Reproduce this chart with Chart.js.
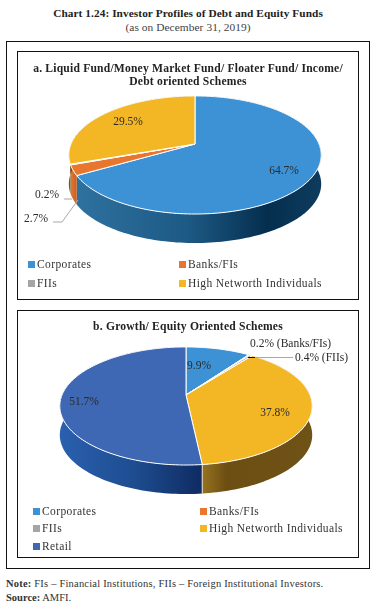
<!DOCTYPE html>
<html>
<head>
<meta charset="utf-8">
<script src="https://cdn.jsdelivr.net/npm/chart.js@4/dist/chart.umd.min.js"></script>
<style>
html, body { margin: 0; padding: 0; background: #fff; }
body { position: relative; width: 376px; height: 606px; overflow: hidden; font-family: "Liberation Serif", serif; color: #222; }
.txt { position: absolute; white-space: nowrap; line-height: 14px; }
.ctr { left: 0; width: 376px; text-align: center; }
.box { position: absolute; box-sizing: border-box; border: 1px solid #111; }
.panel { overflow: hidden; background: #fff; }
.panel canvas { position: absolute; left: 0; top: 0; }
.ptitle { position: absolute; left: 0; width: 100%; text-align: center; font-weight: bold; font-size: 11.6px; line-height: 13px; letter-spacing: 0.2px; color: #222; }
.sw { position: absolute; width: 7px; height: 7px; }
.lg { position: absolute; font-size: 11.5px; line-height: 14px; letter-spacing: 0.4px; white-space: nowrap; color: #333; overflow: hidden; }
</style>
</head>
<body>
<div class="txt ctr" style="top:6px;font-size:11.3px;font-weight:bold;letter-spacing:0.08px">Chart 1.24: Investor Profiles of Debt and Equity Funds</div>
<div class="txt ctr" style="top:20px;font-size:11.4px;letter-spacing:0.06px;color:#444">(as on December 31, 2019)</div>
<div class="box" style="left:6px;top:41px;width:364px;height:528px"></div>

<div class="box panel" id="panelA" style="left:17px;top:51px;width:342px;height:249px">
  <canvas id="pieA" width="340" height="247"></canvas>
  <div class="ptitle" style="top:10px">a. Liquid Fund/Money Market Fund/ Floater Fund/ Income/<br>Debt oriented Schemes</div>
</div>
<div class="box panel" id="panelB" style="left:17px;top:310px;width:342px;height:248px">
  <canvas id="pieB" width="340" height="246"></canvas>
  <div class="ptitle" style="top:9px">b. Growth/ Equity Oriented Schemes</div>
</div>

<div class="txt" style="left:6px;top:577px;font-size:10.5px;letter-spacing:0.2px;color:#333"><b>Note:</b> FIs – Financial Institutions, FIIs – Foreign Institutional Investors.</div>
<div class="txt" style="left:6px;top:591px;font-size:10.5px;color:#333"><b>Source:</b> AMFI.</div>

<script>
var labelsA = ['Corporates', 'Banks/FIs', 'FIIs', 'High Networth Individuals'];
var valuesA = [64.7, 2.7, 0.2, 29.5];
var labelsB = ['Corporates', 'Banks/FIs', 'FIIs', 'High Networth Individuals', 'Retail'];
var valuesB = [9.9, 0.2, 0.4, 37.8, 51.7];

var sliceColors = ['#3C92D5', '#E8762F', '#A5A5A5', '#F3B725', '#3E67B4'];

// side wall gradients, one per slice
var wallStops = [
    [[0, '#2E719F'], [0.45, '#1D5A85'], [0.78, '#052E4E'], [1, '#0E3C5E']],
    [[0, '#E8762F'], [1, '#C9601F']],
    [[0, '#8A8A8A'], [1, '#777777']],
    [[0, '#97731F'], [0.22, '#6C4E12'], [1, '#6F5215']],
    [[0, '#2A60AE'], [0.5, '#1E4E92'], [1, '#0F2B62']]
];

var TILT = 0.186;     // how strongly the near edge is enlarged
var FLAT = 57;        // disc height scale
var RADIUS = 124;
var DEPTH = 29;

// disc point at angle a, seen in perspective
function project(arc, a) {
    var ux = Math.cos(a), uy = Math.sin(a);
    var d = 1 - TILT * uy;
    return { x: arc.x + RADIUS * ux / d, y: arc.y + FLAT * uy / d };
}

function fmt(v) { return v.toFixed(1) + '%'; }

var pie3d = {
    id: 'pie3d',
    beforeDatasetDraw: function (chart, args, opts) {
        var ctx = chart.ctx;
        var arcs = chart.getDatasetMeta(args.index).data;
        var i, j, n, a, p;

        // walls first, the disc covers whatever is at the back
        arcs.forEach(function (arc, idx) {
            var props = arc.getProps(['x', 'y', 'startAngle', 'endAngle'], true);
            n = Math.max(2, Math.ceil((props.endAngle - props.startAngle) * 40));
            var pts = [];
            for (j = 0; j <= n; j++) {
                pts.push(project(props, props.startAngle + (props.endAngle - props.startAngle) * j / n));
            }
            var minX = 1e9, maxX = -1e9;
            pts.forEach(function (q) {
                // only front facing part sets the gradient span
                if (q.y > props.y - 5) { minX = Math.min(minX, q.x); maxX = Math.max(maxX, q.x); }
            });
            if (minX >= maxX) { return; }
            var grad = ctx.createLinearGradient(minX, 0, maxX, 0);
            wallStops[idx].forEach(function (s) { grad.addColorStop(s[0], s[1]); });
            ctx.beginPath();
            pts.forEach(function (q, k) {
                if (k === 0) { ctx.moveTo(q.x, q.y); } else { ctx.lineTo(q.x, q.y); }
            });
            for (j = pts.length - 1; j >= 0; j--) { ctx.lineTo(pts[j].x, pts[j].y + DEPTH); }
            ctx.closePath();
            ctx.fillStyle = grad;
            ctx.fill();
        });

        // line between the walls of neighbouring slices
        if (opts.seam) {
            arcs.forEach(function (arc) {
                var props = arc.getProps(['x', 'y', 'startAngle', 'endAngle'], true);
                p = project(props, props.endAngle);
                if (p.y > props.y + 60) {
                    ctx.beginPath();
                    ctx.moveTo(p.x, p.y);
                    ctx.lineTo(p.x, p.y + DEPTH);
                    ctx.strokeStyle = '#E8E2D0';
                    ctx.lineWidth = 1;
                    ctx.stroke();
                }
            });
        }

        // top surface
        arcs.forEach(function (arc) {
            var props = arc.getProps(['x', 'y', 'startAngle', 'endAngle'], true);
            n = Math.max(2, Math.ceil((props.endAngle - props.startAngle) * 40));
            ctx.beginPath();
            ctx.moveTo(props.x, props.y);
            for (i = 0; i <= n; i++) {
                a = props.startAngle + (props.endAngle - props.startAngle) * i / n;
                p = project(props, a);
                ctx.lineTo(p.x, p.y);
            }
            ctx.closePath();
            ctx.fillStyle = arc.options.backgroundColor;
            ctx.fill();
            ctx.strokeStyle = '#fff';
            ctx.lineWidth = 1;
            ctx.stroke();
        });
        return false;
    },
    afterDatasetsDraw: function (chart, args, opts) {
        var ctx = chart.ctx;
        var values = chart.data.datasets[0].data;
        ctx.save();
        (opts.leaders || []).forEach(function (l) {
            ctx.beginPath();
            l.path.forEach(function (q, k) {
                if (k === 0) { ctx.moveTo(q[0], q[1]); } else { ctx.lineTo(q[0], q[1]); }
            });
            ctx.strokeStyle = l.color;
            ctx.lineWidth = 1;
            ctx.stroke();
        });
        ctx.font = '11.5px "Liberation Serif"';
        ctx.fillStyle = '#2b2b2b';
        ctx.textBaseline = 'middle';
        (opts.spots || []).forEach(function (s) {
            ctx.textAlign = s.align || 'center';
            ctx.fillText(fmt(values[s.idx]) + (s.suffix || ''), s.x, s.y);
        });
        ctx.restore();
    }
};

// legend is laid out as two fixed columns, so plain elements instead of the built in one
function addLegend(panelId, labels, place) {
    var panel = document.getElementById(panelId);
    labels.forEach(function (lab, i) {
        var sw = document.createElement('div');
        sw.className = 'sw';
        sw.style.left = place.cols[i % 2] + 'px';
        sw.style.top = (place.rows[Math.floor(i / 2)] - 3.5) + 'px';
        sw.style.background = sliceColors[i];
        panel.appendChild(sw);
        var t = document.createElement('div');
        t.className = 'lg';
        t.style.left = (place.cols[i % 2] + 9) + 'px';
        t.style.top = (place.rows[Math.floor(i / 2)] - 7) + 'px';
        // the last row is cut off in the original
        if (i === place.cutIndex) { t.style.height = place.cutHeight + 'px'; }
        t.textContent = lab;
        panel.appendChild(t);
    });
}

function makePie(id, labels, values, padding, pluginOpts) {
    return new Chart(document.getElementById(id), {
        type: 'pie',
        data: {
            labels: labels,
            datasets: [{ data: values, backgroundColor: sliceColors.slice(0, labels.length), borderWidth: 0 }]
        },
        options: {
            responsive: false,
            animation: false,
            radius: RADIUS,
            layout: { padding: padding },
            plugins: { legend: { display: false }, tooltip: { enabled: false }, pie3d: pluginOpts }
        },
        plugins: [pie3d]
    });
}

// canvas A starts at 18,52 and canvas B at 18,311 on the page
makePie('pieA', labelsA, valuesA, { left: 14, bottom: 63 }, {
    spots: [
        { idx: 0, x: 266, y: 119 },
        { idx: 1, x: 18, y: 167 },
        { idx: 2, x: 29, y: 143 },
        { idx: 3, x: 110, y: 70 }
    ],
    leaders: [
        { path: [[54, 147], [53, 147], [46, 147]], color: '#A8A8A8' },
        { path: [[60, 148], [44, 170], [35, 170]], color: '#A8A8A8' }
    ]
});
addLegend('panelA', labelsA, { cols: [10, 161], rows: [212, 231] });

makePie('pieB', labelsB, valuesB, { right: 4, bottom: 78 }, {
    seam: true,
    spots: [
        { idx: 0, x: 181, y: 55 },
        { idx: 1, x: 232, y: 33, align: 'left', suffix: ' (Banks/FIs)' },
        { idx: 2, x: 277, y: 47, align: 'left', suffix: ' (FIIs)' },
        { idx: 3, x: 257, y: 102 },
        { idx: 4, x: 66, y: 91 }
    ],
    leaders: [
        { path: [[237, 46.5], [275, 46.5]], color: '#A8A8A8' },
        { path: [[230, 46.5], [237, 46.5]], color: '#111' }
    ]
});
addLegend('panelB', labelsB, { cols: [15, 182], rows: [200, 217, 235], cutIndex: 4, cutHeight: 11 });
</script>
</body>
</html>
